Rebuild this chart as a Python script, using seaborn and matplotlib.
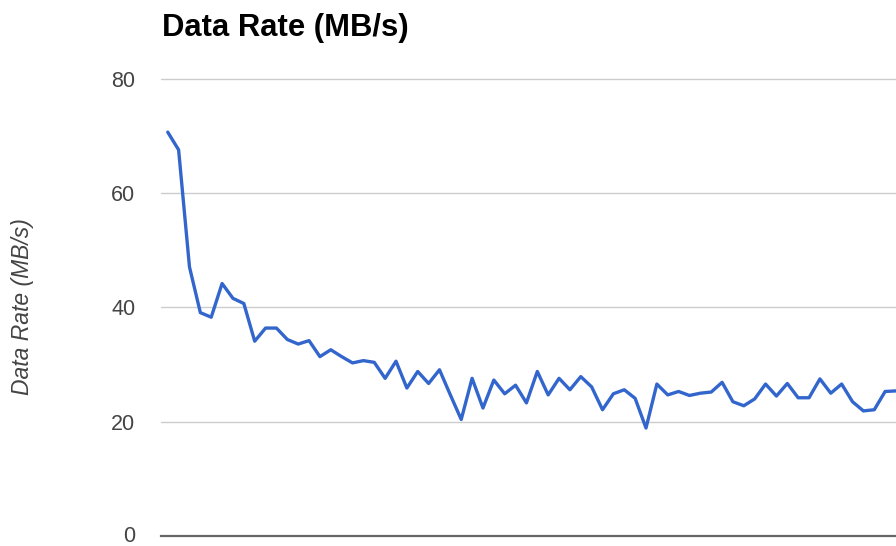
import matplotlib
matplotlib.use("Agg")
import matplotlib.pyplot as plt
import matplotlib.transforms as mtransforms
import seaborn as sns
import pandas as pd

# Measured transfer rate per sample (MB/s)
rates = [70.7, 67.6, 47.1, 39.1, 38.3, 44.2, 41.6, 40.7, 34.1, 36.4,
         36.4, 34.4, 33.6, 34.2, 31.4, 32.6, 31.4, 30.3, 30.7, 30.4,
         27.6, 30.6, 25.9, 28.8, 26.7, 29.1, 24.7, 20.4, 27.6, 22.4,
         27.3, 24.9, 26.4, 23.3, 28.8, 24.7, 27.6, 25.6, 27.9, 26.1,
         22.1, 24.9, 25.6, 24.1, 18.9, 26.6, 24.7, 25.3, 24.6, 25.0,
         25.2, 26.9, 23.5, 22.8, 24.0, 26.6, 24.5, 26.7, 24.2, 24.2,
         27.5, 25.0, 26.6, 23.5, 21.9, 22.1, 25.3, 25.4]
samples = list(range(len(rates)))
y_ticks = [0, 20, 40, 60, 80]
title = "Data Rate (MB/s)"

df = pd.DataFrame({"sample": samples, "rate": rates})

sns.set_theme(style="white")
plt.rcParams["font.family"] = ["Liberation Sans", "DejaVu Sans"]

W, H = 896, 546
fig = plt.figure(figsize=(W / 100, H / 100), dpi=100)
px_per_unit = 457 / 80
ax = fig.add_axes([161 / W, 10 / H, 735 / W, 82 * px_per_unit / H])

sns.lineplot(data=df, x="sample", y="rate", ax=ax, color="#3366cc",
             linewidth=2.4, solid_joinstyle="round", solid_capstyle="round")

ax.set_ylim(0, 82)
ax.set_xlim(-0.62, 67.0)
ax.set_yticks(y_ticks)
ax.set_yticklabels([str(t) for t in y_ticks], fontsize=15.5, color="#444444")
ax.set_xticks([])
ax.tick_params(axis="y", length=0, pad=18.5)

# keep the bottom "0" label inside the canvas
zero_label = ax.get_yticklabels()[0]
zero_label.set_transform(zero_label.get_transform() +
                         mtransforms.ScaledTranslation(0, 2 / 100, fig.dpi_scale_trans))

for t in y_ticks[1:]:
    ax.axhline(t, color="#cccccc", linewidth=1.0, zorder=0)

for side in ["top", "right", "left"]:
    ax.spines[side].set_visible(False)
ax.spines["bottom"].set_color("#666666")
ax.spines["bottom"].set_linewidth(1.6)

ax.set_xlabel("")
ax.set_ylabel("")

fig.text(162 / W, 1 - 36 / H, title, fontsize=22.3, fontweight="bold",
         color="#000000", ha="left", va="baseline")
fig.text(22 / W, 1 - 307 / H, "Data Rate (MB/s)", rotation=90, fontsize=16.5,
         fontstyle="italic", color="#444444", ha="center", va="center")

fig.savefig("out.png", dpi=100)
